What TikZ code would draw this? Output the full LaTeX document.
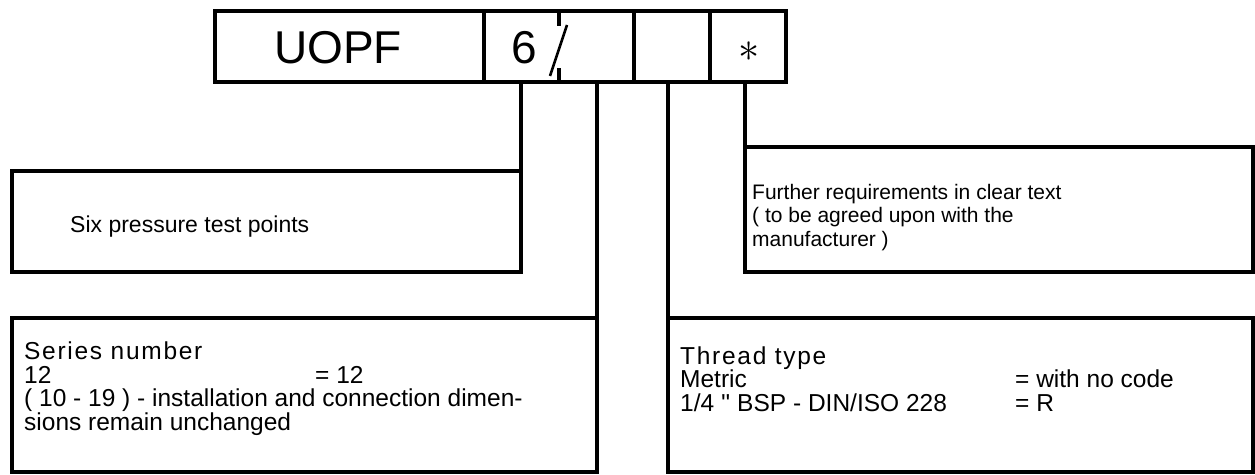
\documentclass[tikz,border=0pt]{standalone}
\usepackage{fontspec}
\setmainfont{Liberation Sans}
\usepackage{tikz}
\usetikzlibrary{positioning,calc}
\tikzset{
    cell/.style={
        rectangle,
        draw=black,
        line width=4pt,
        minimum height=71pt,
        inner sep=0pt,
        outer sep=0pt,
        anchor=north west,
    },
    infobox/.style={
        rectangle,
        draw=black,
        line width=4pt,
        inner sep=0pt,
        outer sep=0pt,
        anchor=north west,
    },
    lead/.style={
        draw,
        line width=4pt,
    },
    codetext/.style={
        anchor=base west,
        inner sep=0pt,
        font=\fontsize{46}{46}\selectfont,
    },
    infotext/.style={
        anchor=base west,
        align=left,
        inner sep=0pt,
        font=\fontsize{21}{23.5}\selectfont,
    },
    bigtext/.style={
        infotext,
        font=\fontsize{24.5}{23.5}\selectfont,
    },
}
\newcommand{\headline}[1]{{\addfontfeature{LetterSpace=7}#1}}

\begin{document}
\begin{tikzpicture}[x=1pt,y=-1pt]
    \useasboundingbox (0,0) rectangle (1255,474);
    % order code
    \node [cell,minimum width=269pt] at (215,11) (name) {};
    \node [cell,minimum width=150pt] at (name.north east) (pair) {};
    \node [cell,minimum width=76pt] at (pair.north east) (thr) {};
    \node [cell,minimum width=76pt] at (thr.north east) (opt) {};
    \draw [lead] (pair.north) -- ++(0,15);
    \draw [lead] (pair.south) -- ++(0,-14);
    \draw [line width=2.6pt] ($(pair.center)+(-9,29.5)$) -- ($(pair.center)+(8,-21.5)$);
    \node [codetext] at (274,63) (uopf) {UOPF};
    \node [codetext] at (511,63) (six) {6};
    \node [inner sep=0pt,anchor=base,font=\fontsize{24}{24}\selectfont] at (749,61) (star) {\scalebox{1.7}{$\ast$}};
    % boxes
    \node [infobox,minimum width=509pt,minimum height=101pt] at (12,171) (points) {};
    \node [infobox,minimum width=508pt,minimum height=125pt] at (745,147) (further) {};
    \node [infobox,minimum width=585pt,minimum height=154pt] at (12,318) (series) {};
    \node [infobox,minimum width=585pt,minimum height=154pt] at (668,318) (thread) {};
    % leads
    \coordinate (p1) at ($(pair.south west)+(37,0)$);
    \coordinate (p2) at ($(pair.south west)+(113,0)$);
    \draw [lead] (p1) -- (points.north east);
    \draw [lead] (p2) -- (series.north east);
    \draw [lead] (thr.south -| thread.north west) -- (thread.north west);
    \draw [lead] (opt.south -| further.north west) -- (further.north west);
    % texts (base = last line)
    \node [infotext,font=\fontsize{23}{23.5}\selectfont] at (70,232) (pointstext) {Six pressure test points};
    \node [infotext] at (752,246) (furthertext) {Further requirements in clear text\\
        ( to be agreed upon with the\\ manufacturer )};
    \node [bigtext] at (24,430) (seriestext) {\headline{Series number}\\
        \makebox[291pt][l]{12}= 12\\
        ( 10 - 19 ) - installation and connection dimen-\\
        sions remain unchanged};
    \node [bigtext] at (680,411) (threadtext) {\headline{Thread type}\\
        \makebox[335pt][l]{Metric}= with no code\\
        \makebox[335pt][l]{1/4 \textquotesingle\textquotesingle\ BSP - DIN/ISO 228}= R};
\end{tikzpicture}
\end{document}
